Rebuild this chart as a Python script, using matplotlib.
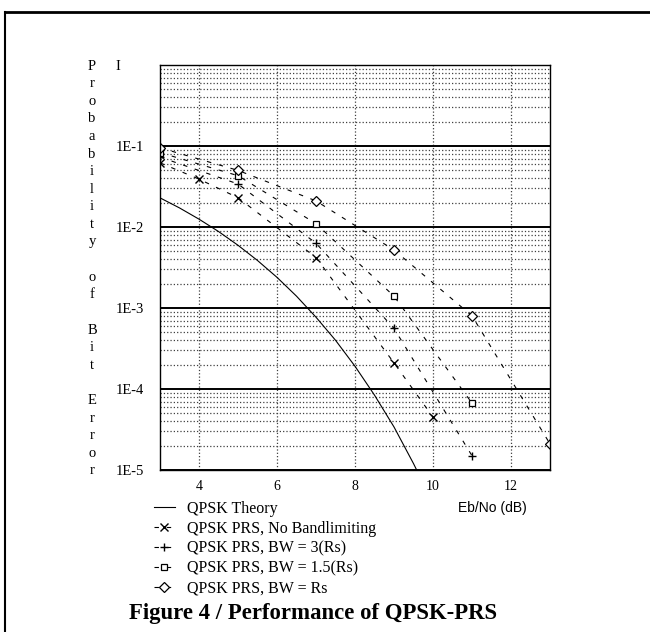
import matplotlib
matplotlib.use("Agg")
import matplotlib.pyplot as plt
from matplotlib.lines import Line2D

# Eb/No (dB) e BER
ebno_teoria = [3, 3.5, 4, 4.5, 5, 5.5, 6, 6.5, 7, 7.5, 8, 8.5, 9, 9.5, 10]
ber_teoria = [2.29e-2, 1.72e-2, 1.25e-2, 8.8e-3, 5.95e-3, 3.86e-3, 2.39e-3,
              1.40e-3, 7.7e-4, 4.0e-4, 1.91e-4, 8.4e-5, 3.4e-5, 1.2e-5, 3.9e-6]

ebno_sem_banda = [3, 4, 5, 7, 9, 10]
ber_sem_banda = [6.2e-2, 3.9e-2, 2.3e-2, 4.2e-3, 2.1e-4, 4.5e-5]

ebno_bw3 = [3, 5, 7, 9, 11]
ber_bw3 = [7.3e-2, 3.4e-2, 6.3e-3, 5.6e-4, 1.5e-5]

ebno_bw15 = [3, 5, 7, 9, 11]
ber_bw15 = [8.3e-2, 4.3e-2, 1.1e-2, 1.4e-3, 6.7e-5]

ebno_bw1 = [3, 5, 7, 9, 11, 13]
ber_bw1 = [9.5e-2, 5.0e-2, 2.1e-2, 5.2e-3, 8.0e-4, 2.1e-5]

rotulos_legenda = ["QPSK Theory", "QPSK PRS, No Bandlimiting", "QPSK PRS, BW = 3(Rs)",
                   "QPSK PRS, BW = 1.5(Rs)", "QPSK PRS, BW = Rs"]
ticks_x = [4, 6, 8, 10, 12]
ticks_y = [1e-5, 1e-4, 1e-3, 1e-2, 1e-1, 1]
rotulos_y = ["1E-5", "1E-4", "1E-3", "1E-2", "1E-1", "I"]

serif = "Liberation Serif"
W, H = 650, 632
fig = plt.figure(figsize=(W / 100, H / 100), dpi=100)

# moldura parcial (topo e lado esquerdo)
fig.add_artist(Line2D([5 / W, 1], [1 - 12 / H, 1 - 12 / H], color="black", lw=2, transform=fig.transFigure))
fig.add_artist(Line2D([5 / W, 5 / W], [0, 1 - 12 / H], color="black", lw=1.5, transform=fig.transFigure))

ax = fig.add_axes([160 / W, 1 - 470 / H, 390 / W, 405 / H])
ax.set_yscale("log")
ax.set_xlim(3, 13)
ax.set_ylim(1e-5, 1)

ax.grid(True, which="minor", axis="y", linestyle=":", color="0.25", lw=0.9)
ax.grid(True, which="major", axis="y", linestyle="-", color="black", lw=1.4)
ax.grid(True, which="major", axis="x", linestyle=":", color="0.25", lw=0.9)
for s in ax.spines.values():
    s.set_linewidth(1.0)

tracos = (4, 7)
ax.plot(ebno_teoria, ber_teoria, "-", color="black", lw=0.8, label=rotulos_legenda[0])
ax.plot(ebno_sem_banda, ber_sem_banda, "--", dashes=tracos, color="black", lw=0.8,
        marker="x", ms=6, mew=1.0, label=rotulos_legenda[1])
ax.plot(ebno_bw3, ber_bw3, "--", dashes=tracos, color="black", lw=0.8,
        marker="+", ms=6, mew=1.0, label=rotulos_legenda[2])
ax.plot(ebno_bw15, ber_bw15, "--", dashes=tracos, color="black", lw=0.8,
        marker="s", ms=4.8, mfc="white", mew=0.9, label=rotulos_legenda[3])
ax.plot(ebno_bw1, ber_bw1, "--", dashes=tracos, color="black", lw=0.8,
        marker="D", ms=5, mfc="white", mew=0.9, label=rotulos_legenda[4])

ax.set_xticks(ticks_x)
ax.set_xticklabels([str(t) for t in ticks_x], fontfamily=serif, fontsize=10)
ax.set_yticks(ticks_y)
ax.set_yticklabels(rotulos_y, fontfamily=serif, fontsize=10.5, ha="left")
ax.yaxis.set_minor_formatter(plt.NullFormatter())
ax.tick_params(axis="both", which="both", length=0)
ax.tick_params(axis="y", pad=32)
ax.tick_params(axis="x", pad=7)

# rótulo vertical letra por letra
letras = "Probability of Bit Error"
for i, ch in enumerate(letras):
    if ch != " ":
        fig.text(92 / W, 1 - (66 + i * 17.6) / H, ch, fontfamily=serif, fontsize=10.5,
                 ha="center", va="center")

fig.text(527 / W, 1 - 508 / H, "Eb/No (dB)", fontfamily="Liberation Sans", fontsize=10,
         ha="right", va="center")

fig.legend(loc="upper left", bbox_to_anchor=(154 / W, 1 - 501 / H), frameon=False,
           prop={"family": serif, "size": 11.5}, handlelength=1.3, handletextpad=0.75,
           labelspacing=0.24, borderpad=0, borderaxespad=0, numpoints=1)

fig.text(313 / W, 1 - 613 / H, "Figure 4 / Performance of QPSK-PRS", fontfamily=serif,
         fontsize=16.4, fontweight="bold", ha="center", va="center")

fig.savefig("out.png", dpi=100)
